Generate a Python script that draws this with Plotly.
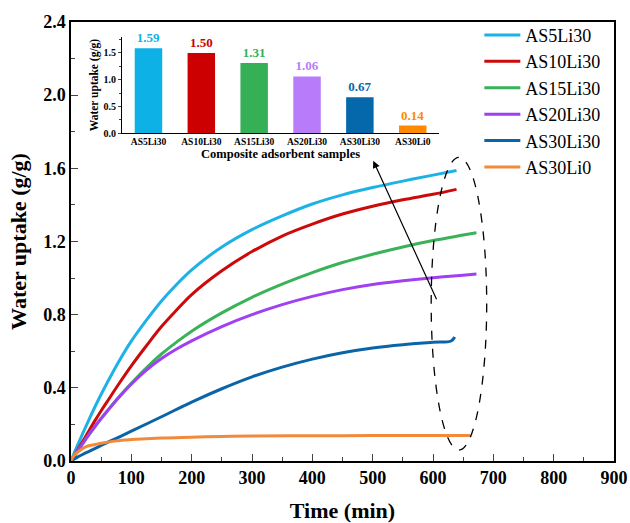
import plotly.graph_objects as go

# ---- main curves ----
names = ["AS5Li30", "AS10Li30", "AS15Li30", "AS20Li30", "AS30Li30", "AS30Li0"]
line_colors = ["#1DB2E6", "#CC0A0A", "#3AB259", "#A040F2", "#0A64A8", "#F28A3C"]

t_as5 = [0, 10, 20, 30, 40, 50, 60, 80, 100, 125, 150, 175, 200, 250, 300, 350, 400, 450, 500, 550, 600, 639]
q_as5 = [0, 0.08, 0.155, 0.228, 0.298, 0.365, 0.428, 0.548, 0.655, 0.77, 0.875, 0.965, 1.045, 1.17, 1.265, 1.34, 1.405, 1.455, 1.495, 1.53, 1.563, 1.588]

t_as10 = [0, 10, 20, 30, 40, 50, 60, 80, 100, 125, 150, 175, 200, 250, 300, 350, 400, 450, 500, 550, 600, 639]
q_as10 = [0, 0.055, 0.11, 0.167, 0.222, 0.275, 0.325, 0.425, 0.52, 0.63, 0.735, 0.825, 0.91, 1.04, 1.145, 1.23, 1.295, 1.35, 1.393, 1.428, 1.458, 1.485]

t_as15 = [0, 10, 20, 30, 40, 50, 60, 80, 100, 125, 150, 175, 200, 250, 300, 350, 400, 450, 500, 550, 600, 650, 672]
q_as15 = [0, 0.05, 0.098, 0.145, 0.19, 0.233, 0.274, 0.352, 0.425, 0.51, 0.585, 0.65, 0.71, 0.81, 0.895, 0.967, 1.03, 1.085, 1.13, 1.17, 1.205, 1.235, 1.248]

t_as20 = [0, 10, 20, 30, 40, 50, 60, 80, 100, 125, 150, 175, 200, 250, 300, 350, 400, 450, 500, 550, 600, 650, 672]
q_as20 = [0, 0.05, 0.098, 0.145, 0.19, 0.232, 0.272, 0.35, 0.42, 0.497, 0.56, 0.612, 0.657, 0.735, 0.8, 0.855, 0.9, 0.937, 0.965, 0.985, 1.002, 1.016, 1.022]

t_as30 = [0, 10, 20, 30, 50, 75, 100, 150, 200, 250, 300, 350, 400, 450, 500, 550, 600, 630, 636]
q_as30 = [0, 0.02, 0.037, 0.053, 0.085, 0.124, 0.163, 0.242, 0.322, 0.395, 0.46, 0.513, 0.557, 0.592, 0.618, 0.636, 0.649, 0.656, 0.678]

t_as30li0 = [0, 5, 12, 25, 40, 50, 75, 100, 150, 200, 250, 300, 400, 500, 600, 662]
q_as30li0 = [0, 0.03, 0.05, 0.078, 0.09, 0.097, 0.11, 0.117, 0.126, 0.13, 0.134, 0.136, 0.138, 0.139, 0.14, 0.14]

series_t = [t_as5, t_as10, t_as15, t_as20, t_as30, t_as30li0]
series_q = [q_as5, q_as10, q_as15, q_as20, q_as30, q_as30li0]

# ---- inset bar chart ----
bar_labels = ["AS5Li30", "AS10Li30", "AS15Li30", "AS20Li30", "AS30Li30", "AS30Li0"]
bar_values = [1.59, 1.50, 1.31, 1.06, 0.67, 0.14]
bar_colors = ["#0DB1E6", "#CC0000", "#36B057", "#B87BFA", "#0468AA", "#FF8A00"]

# ---- x / y tick values ----
x_ticks = [0, 100, 200, 300, 400, 500, 600, 700, 800, 900]
y_ticks = [0.0, 0.4, 0.8, 1.2, 1.6, 2.0, 2.4]

SERIF = "Liberation Serif, Times New Roman, serif"

fig = go.Figure()
for n, c, tt, qq in zip(names, line_colors, series_t, series_q):
    fig.add_trace(go.Scatter(x=tt, y=qq, mode="lines", name=n,
                             line=dict(color=c, width=3, shape="spline", smoothing=1.0)))

fig.add_trace(go.Bar(
    x=bar_labels, y=bar_values, marker=dict(color=bar_colors, line=dict(width=0)),
    width=0.52, xaxis="x2", yaxis="y2", showlegend=False,
    text=[f"<b>{v:.2f}</b>" for v in bar_values], textposition="outside",
    textfont=dict(family=SERIF, size=13, color=bar_colors),
    cliponaxis=False,
))

fig.update_layout(
    width=630, height=523,
    margin=dict(l=71, r=16, t=22, b=62),
    paper_bgcolor="white", plot_bgcolor="white",
    font=dict(family=SERIF, color="black"),
    showlegend=True,
    legend=dict(x=0.752, y=1.012, xanchor="left", yanchor="top",
                font=dict(family=SERIF, size=18, color="black"),
                bgcolor="rgba(0,0,0,0)", borderwidth=0, itemwidth=36,
                tracegroupgap=0),
    xaxis=dict(range=[0, 900], tickvals=x_ticks, ticks="inside", ticklen=7, tickwidth=1.3,
               minor=dict(dtick=50, ticks="inside", ticklen=4, tickwidth=1.2),
               showline=True, linewidth=1.5, linecolor="black", mirror=True,
               showgrid=False, zeroline=False, automargin=False,
               tickfont=dict(family=SERIF, size=18, color="black", weight="bold"),
               title=dict(text="<b>Time (min)</b>", font=dict(family=SERIF, size=22), standoff=19)),
    yaxis=dict(range=[0, 2.4], tickvals=y_ticks, tickformat=".1f", ticks="inside", ticklen=7, tickwidth=1.3,
               minor=dict(dtick=0.2, ticks="inside", ticklen=4, tickwidth=1.2),
               showline=True, linewidth=1.5, linecolor="black", mirror=True,
               showgrid=False, zeroline=False, automargin=False,
               tickfont=dict(family=SERIF, size=18, color="black", weight="bold"),
               title=dict(text="<b>Water uptake (g/g)</b>", font=dict(family=SERIF, size=22), standoff=10)),
    xaxis2=dict(domain=[0.094, 0.678], anchor="y2", type="category", range=[-0.5, 5.5],
                showline=True, linewidth=1, linecolor="black", ticks="", showgrid=False, automargin=False,
                tickfont=dict(family=SERIF, size=9.5, color="black", weight="bold"),
                title=dict(text="<b>Composite adsorbent samples</b>", font=dict(family=SERIF, size=12.5), standoff=2)),
    yaxis2=dict(domain=[0.747, 0.966], anchor="x2", range=[0, 1.8], tickvals=[0, 0.5, 1.0, 1.5],
                tickformat=".1f", ticks="outside", ticklen=3, tickwidth=1,
                minor=dict(dtick=0.25, ticks="outside", ticklen=2, tickwidth=1),
                showline=True, linewidth=1, linecolor="black", showgrid=False, zeroline=False, automargin=False,
                tickfont=dict(family=SERIF, size=10, color="black", weight="bold"),
                title=dict(text="<b>Water uptake (g/g)</b>", font=dict(family=SERIF, size=11.5), standoff=2)),
    bargap=0.48,
)

# dashed ellipse around curve ends
fig.add_shape(type="circle", xref="x", yref="y", x0=597, x1=689, y0=0.06, y1=1.66,
              line=dict(color="black", width=1.3, dash="dash"))

# arrow pointing to inset
fig.add_annotation(x=501, y=1.641, ax=607, ay=0.876, xref="x", yref="y", axref="x", ayref="y",
                   showarrow=True, arrowhead=2, arrowsize=1.2, arrowwidth=1.2, arrowcolor="black", text="")

fig.write_html("out.html")
